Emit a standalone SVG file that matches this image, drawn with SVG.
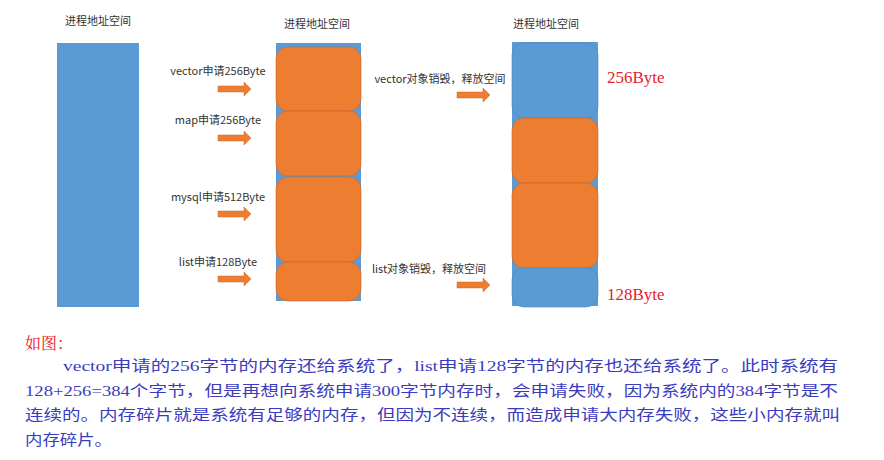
<svg xmlns="http://www.w3.org/2000/svg" width="884" height="460" viewBox="0 0 884 460">
<style>
.lbl{font-family:"Noto Sans CJK SC","Liberation Sans",sans-serif;font-size:11px;fill:#333}
.blue{fill:#5b9bd5}
.or{fill:#ed7d31;stroke:#c8682a;stroke-width:0.6}
.bl{fill:#5b9bd5;stroke:#4a86bd;stroke-width:0.6}
.red{font-family:"Liberation Serif","Noto Serif CJK SC",serif;font-size:17px;fill:#e8202a}
.body{font-family:"Liberation Serif","Noto Sans CJK SC",serif;font-size:15px;fill:#3b3bc0}
</style>
<defs>
<path id="arr" d="M0,-3 H26 V-7 L33,0 L26,7 V3 H0 Z" fill="#ed7d31" stroke="#c8682a" stroke-width="0.5"/>
</defs>
<g id="col1">
<text class="lbl" x="98" y="25" text-anchor="middle">进程地址空间</text>
<rect class="blue" x="57" y="43" width="82" height="264"/>
</g>
<g id="col2">
<text class="lbl" x="317" y="28" text-anchor="middle">进程地址空间</text>
<rect class="blue" x="276" y="43" width="85" height="258"/>
<rect class="or" x="276" y="47" width="85" height="64" rx="12"/>
<rect class="or" x="276" y="111" width="85" height="65" rx="12"/>
<rect class="or" x="276" y="177" width="85" height="85" rx="12"/>
<rect class="or" x="276" y="262" width="85" height="39" rx="12"/>
</g>
<g id="col3">
<text class="lbl" x="546" y="28" text-anchor="middle">进程地址空间</text>
<rect class="blue" x="512" y="42" width="86" height="264"/>
<rect class="bl" x="512" y="43" width="86" height="75" rx="12"/>
<rect class="or" x="512" y="118" width="86" height="65" rx="12"/>
<rect class="or" x="512" y="183" width="86" height="85" rx="12"/>
<rect class="bl" x="512" y="268" width="86" height="39" rx="12"/>
<text class="red" x="607" y="83">256Byte</text>
<text class="red" x="607" y="300">128Byte</text>
</g>
<g id="connectors">
<text class="lbl" x="218" y="75" text-anchor="middle">vector申请256Byte</text>
<use href="#arr" x="218" y="89"/>
<text class="lbl" x="218" y="124" text-anchor="middle">map申请256Byte</text>
<use href="#arr" x="218" y="138"/>
<text class="lbl" x="218" y="201" text-anchor="middle">mysql申请512Byte</text>
<use href="#arr" x="218" y="214"/>
<text class="lbl" x="218" y="266" text-anchor="middle">list申请128Byte</text>
<use href="#arr" x="218" y="279"/>
<text class="lbl" x="440" y="83" text-anchor="middle">vector对象销毁，释放空间</text>
<use href="#arr" x="457" y="95"/>
<text class="lbl" x="429" y="273" text-anchor="middle">list对象销毁，释放空间</text>
<use href="#arr" x="457" y="285"/>
</g>
<g id="notes">
<text x="25" y="349" font-family="Liberation Serif,'Noto Serif CJK SC',serif" font-size="16" fill="#e8202a">如图：</text>
<text class="body" x="63" y="371" textLength="775" lengthAdjust="spacingAndGlyphs">vector申请的256字节的内存还给系统了，list申请128字节的内存也还给系统了。此时系统有</text>
<text class="body" x="25" y="396" textLength="813" lengthAdjust="spacingAndGlyphs">128+256=384个字节，但是再想向系统申请300字节内存时，会申请失败，因为系统内的384字节是不</text>
<text class="body" x="25" y="420" textLength="815" lengthAdjust="spacingAndGlyphs">连续的。内存碎片就是系统有足够的内存，但因为不连续，而造成申请大内存失败，这些小内存就叫</text>
<text class="body" x="25" y="445" textLength="87" lengthAdjust="spacingAndGlyphs">内存碎片。</text>
</g>
</svg>
